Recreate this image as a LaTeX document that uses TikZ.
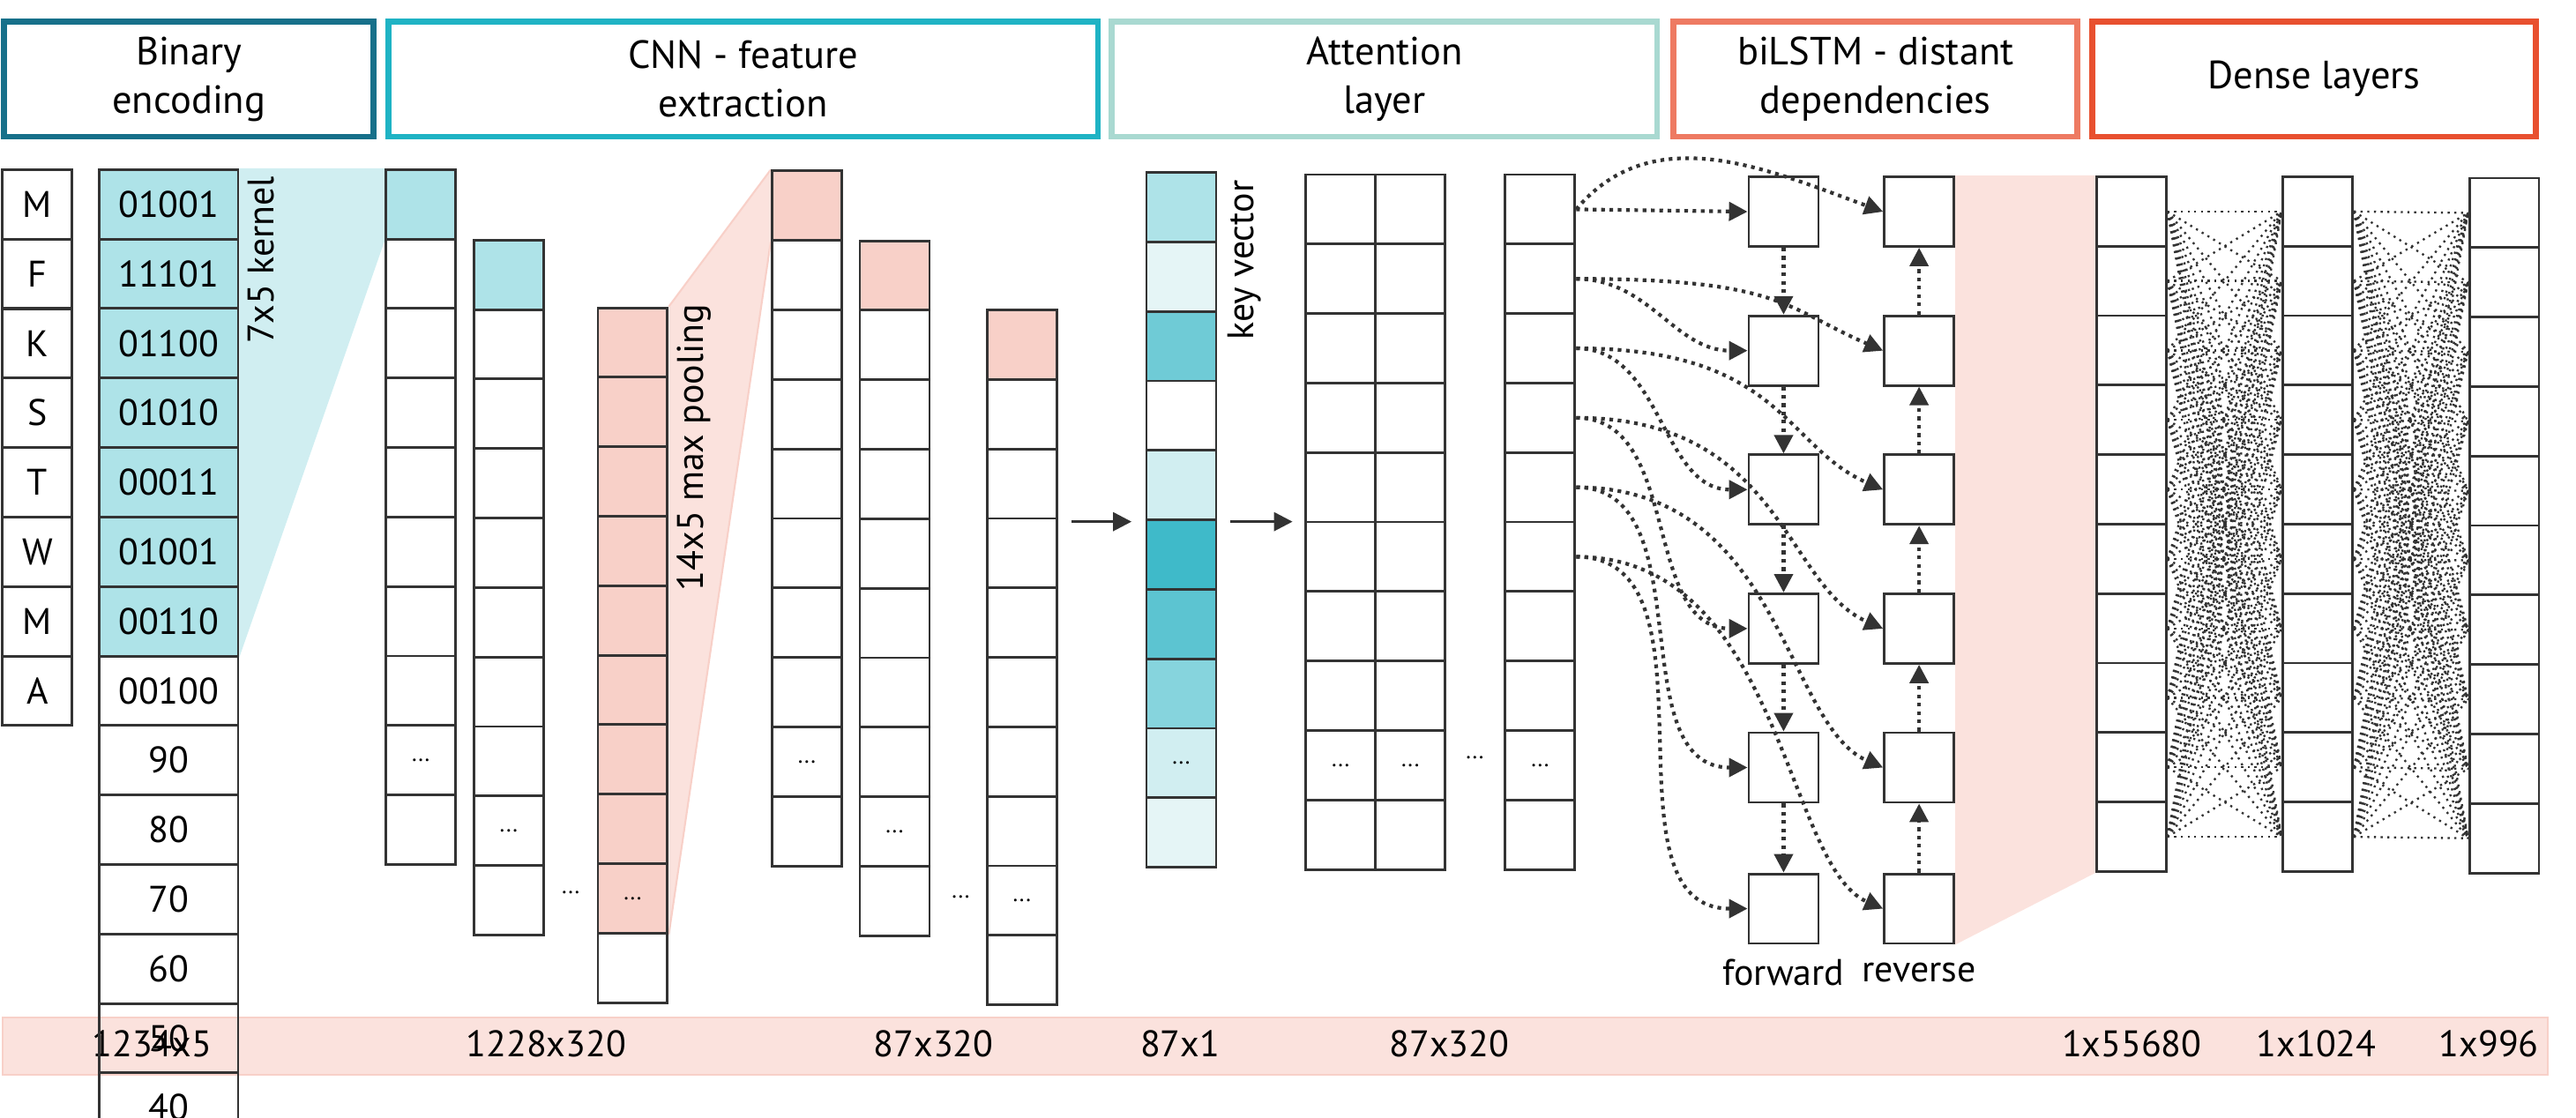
\documentclass[tikz,border=0pt]{standalone}
\usepackage{fontspec}
\setmainfont{PT Sans}
\usetikzlibrary{arrows.meta,backgrounds}
\definecolor{ink}{HTML}{333333}
\definecolor{hdA}{HTML}{17708A}
\definecolor{hdB}{HTML}{1FB3C4}
\definecolor{hdC}{HTML}{A9D9D1}
\definecolor{hdD}{HTML}{EE7A62}
\definecolor{hdE}{HTML}{E8502F}
\definecolor{tA}{HTML}{AEE3E8}
\definecolor{tB}{HTML}{E5F5F6}
\definecolor{tC}{HTML}{6FCBD6}
\definecolor{tD}{HTML}{D1EEF1}
\definecolor{tE}{HTML}{3FBAC9}
\definecolor{tF}{HTML}{5CC4D1}
\definecolor{tG}{HTML}{86D4DD}
\definecolor{pk}{HTML}{F8D0C8}
\definecolor{pkl}{HTML}{FBE2DD}
\definecolor{kern}{HTML}{D0EEF1}
\tikzset{
  cell/.style={draw=ink, line width=1.1pt, minimum width=10.6mm, minimum height=10.6mm, inner sep=0pt, font=\fontsize{16}{19}\selectfont},
  bcell/.style={cell, minimum width=21.1mm},
  head/.style={draw=#1, line width=2.6pt, minimum height=17.5mm, inner sep=0pt, align=center, font=\fontsize{17}{21}\selectfont},
  link/.style={draw=ink, dotted, line width=1.6pt, -{Triangle[length=8pt,width=8pt]}},
  dense/.style={draw=ink, dotted, line width=0.9pt},
  flow/.style={draw=ink, line width=1.2pt, -{Triangle[length=8pt,width=8pt]}},
  dim/.style={font=\fontsize{16}{19}\selectfont},
}
% column of cells: name, left x, top y, list of fills
\newcommand{\cellcol}[4]{%
  \foreach \c [count=\i] in {#4}
    \node[cell, fill=\c] (#1-\i) at ({#2+42.5},{#3+48.75+97.5*(\i-1)}) {};}
\begin{document}
\begin{tikzpicture}[x=0.125mm, y=-0.1085mm]
    \useasboundingbox (0,0) rectangle (3137,1568);

    % headers
    \node[head=hdA, minimum width=56.2mm] (hbin) at (230,111) {Binary\\encoding};
    \node[head=hdB, minimum width=108mm] (hcnn) at (905,111) {CNN - feature\\extraction};
    \node[head=hdC, minimum width=83mm] (hatt) at (1686,111) {Attention\\layer};
    \node[head=hdD, minimum width=61.5mm] (hlstm) at (2284,111) {biLSTM - distant\\dependencies};
    \node[head=hdE, minimum width=67.5mm] (hden) at (2818,111) {Dense layers};

    % bottom strip
    \node[fill=pkl, draw=pk, line width=0.8pt, minimum width=387.5mm, minimum height=8.7mm] (strip) at (1553,1468) {};
    \node[dim] (s1) at (185,1465) {1234x5};
    \node[dim] (s2) at (665,1465) {1228x320};
    \node[dim] (s3) at (1137,1465) {87x320};
    \node[dim] (s4) at (1437,1465) {87x1};
    \node[dim] (s5) at (1765,1465) {87x320};
    \node[dim] (s6) at (2596,1465) {1x55680};
    \node[dim] (s7) at (2821,1465) {1x1024};
    \node[dim] (s8) at (3031,1465) {1x996};

    % binary encoding
    \foreach \l [count=\i] in {M,F,K,S,T,W,M,A,{...},T}
      \node[cell] (let-\i) at (45.5,{286.75+97.5*(\i-1)}) {\l};
    \foreach \b [count=\i] in {01001,11101,01100,01010,00011,01001,00110,00100,{...},00001}
      \node[bcell] (bin-\i) at (205.5,{286.75+97.5*(\i-1)}) {\b};
    \foreach \b [count=\i] in {01001,11101,01100,01010,00011,01001,00110}
      \node[bcell, fill=tA] at (bin-\i) {\b};

    % convolution
    \cellcol{cA}{470}{238}{tA,white,white,white,white,white,white,white,white,white}
    \cellcol{cB}{577}{337}{tA,white,white,white,white,white,white,white,white,white}
    \cellcol{cC}{728}{432}{pk,pk,pk,pk,pk,pk,pk,pk,pk,white}
    \node at (695,1252) {...};
    \node at (cA-9) {...};
    \node at (cB-9) {...};
    \node at (cC-9) {...};

    % pooling
    \cellcol{pA}{940}{240}{pk,white,white,white,white,white,white,white,white,white}
    \cellcol{pB}{1047}{338}{pk,white,white,white,white,white,white,white,white,white}
    \cellcol{pC}{1202}{435}{pk,white,white,white,white,white,white,white,white,white}
    \node at (1170,1258) {...};
    \node at (pA-9) {...};
    \node at (pB-9) {...};
    \node at (pC-9) {...};

    \begin{scope}[on background layer]
      \fill[kern] (bin-1.north east) -- (cA-1.north west) -- (cA-1.south west) -- (bin-7.south east) -- cycle;
      \fill[pkl] (cC-1.north east) -- (pA-1.north west) -- (pA-1.south west) -- (cC-9.south east) -- cycle;
      \draw[pk, line width=0.8pt] (cC-1.north east) -- (pA-1.north west);
      \draw[pk, line width=0.8pt] (cC-9.south east) -- (pA-1.south west);
    \end{scope}
    \node[rotate=90, dim] (klab) at (318,365) {7x5 kernel};
    \node[rotate=90, dim] (plab) at (845,628) {14x5 max pooling};

    % attention
    \coordinate (a1s) at (1305,732);
    \coordinate (a1e) at (1378,732);
    \draw[flow] (a1s) -- (a1e);
    \cellcol{key}{1396}{242}{tA,tB,tC,white,tD,tE,tF,tG,tD,tB}
    \node at (key-9) {...};
    \node[rotate=90, dim] (vlab) at (1515,365) {key vector};
    \coordinate (a2s) at (1498,732);
    \coordinate (a2e) at (1574,732);
    \draw[flow] (a2s) -- (a2e);
    \cellcol{atA}{1590}{245}{white,white,white,white,white,white,white,white,white,white}
    \cellcol{atB}{1675}{245}{white,white,white,white,white,white,white,white,white,white}
    \cellcol{atC}{1833}{245}{white,white,white,white,white,white,white,white,white,white}
    \node at (atA-9) {...};
    \node at (atB-9) {...};
    \node at (atC-9) {...};
    \node at (1796,1063) {...};

    % biLSTM
    \foreach \y [count=\i] in {297,492,687,882,1077,1275} {
      \node[cell] (fw-\i) at (2172,\y) {};
      \node[cell] (rv-\i) at (2337,\y) {};
    }
    \foreach \i [evaluate=\i as \j using int(\i+1)] in {1,...,5} {
      \draw[link] (fw-\i) -- (fw-\j);
      \draw[link] (rv-\j) -- (rv-\i);
    }
    \draw[link] (atC-1.east) -- (fw-1.west);
    \draw[link] (atC-1.east) to[out=50, in=160] (rv-1.west);
    \foreach \i in {2,...,6} {
      \draw[link] (atC-\i.east) to[out=0, in=180] (fw-\i.west);
      \draw[link] (atC-\i.east) .. controls +(250,0) and +(-120,-60) .. (rv-\i.west);
    }
    \node[dim] (fwlab) at (2172,1365) {forward};
    \node[dim] (rvlab) at (2337,1365) {reverse};

    % dense layers
    \cellcol{dA}{2553}{248}{white,white,white,white,white,white,white,white,white,white}
    \cellcol{dB}{2780}{248}{white,white,white,white,white,white,white,white,white,white}
    \cellcol{dC}{3007}{250}{white,white,white,white,white,white,white,white,white,white}
    \begin{scope}[on background layer]
      \fill[pkl] (rv-1.north east) -- (dA-1.north west) -- (dA-10.south west) -- (rv-6.south east) -- cycle;
      \foreach \a in {1,...,10}
        \foreach \b in {1,...,10} {
          \draw[dense] (dA-\a.east) -- (dB-\b.west);
          \draw[dense] (dB-\a.east) -- (dC-\b.west);
        }
    \end{scope}
\end{tikzpicture}
\end{document}
